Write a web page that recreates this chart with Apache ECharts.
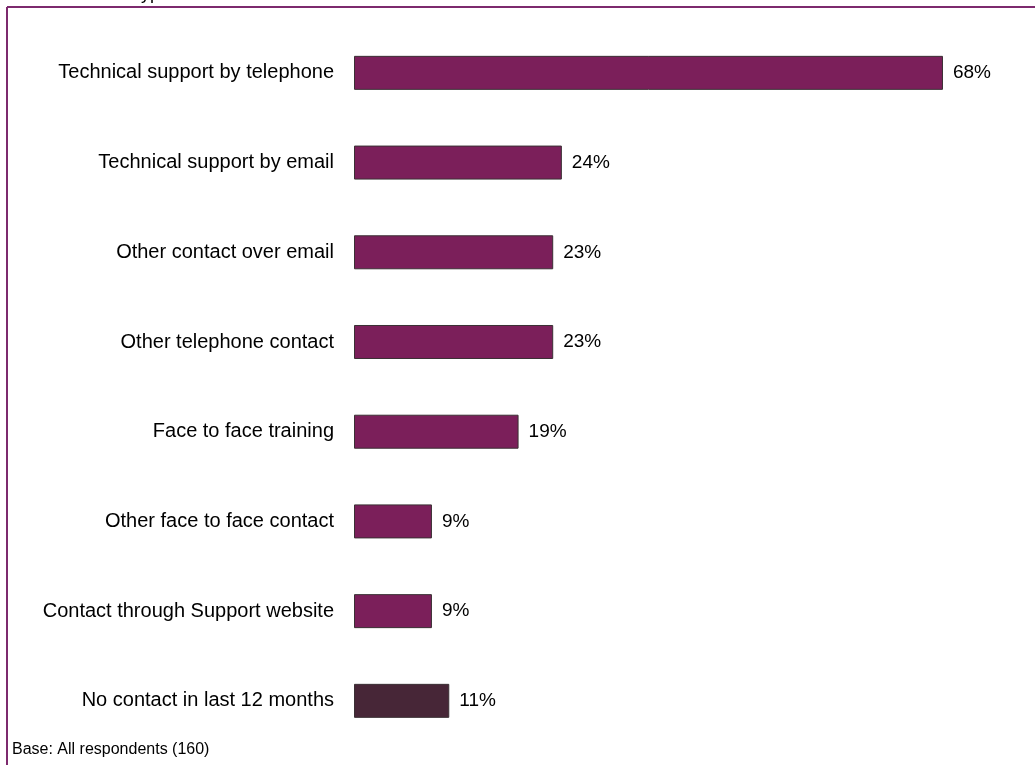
<!DOCTYPE html>
<html>
<head>
<meta charset="utf-8">
<style>
  html, body { margin: 0; padding: 0; background: #ffffff; }
  #chart { width: 1035px; height: 765px; }
</style>
<script src="https://cdn.jsdelivr.net/npm/echarts@6/dist/echarts.min.js"></script>
</head>
<body>
<div id="chart"></div>
<script>
// Contact types, top to bottom
const categories = [
  'Technical support by telephone',
  'Technical support by email',
  'Other contact over email',
  'Other telephone contact',
  'Face to face training',
  'Other face to face contact',
  'Contact through Support website',
  'No contact in last 12 months'
];
// Share of respondents (%)
const values = [68, 24, 23, 23, 19, 9, 9, 11];
const baseNote = 'Base: All respondents (160)';
const titleText = 'Type of contact';

const purple = '#7B1F5A';
const darkPlum = '#472637';
const font = 'Liberation Sans, Arial, sans-serif';

const chart = echarts.init(document.getElementById('chart'), null, { renderer: 'canvas' });

chart.setOption({
  animation: false,
  backgroundColor: '#ffffff',
  grid: { left: 354, top: 28, width: 649.6, height: 717.7, containLabel: false },
  xAxis: {
    type: 'value', min: 0, max: 75,
    show: false
  },
  yAxis: {
    type: 'category',
    inverse: true,
    data: categories,
    axisLine: { show: false },
    axisTick: { show: false },
    axisLabel: {
      margin: 20,
      color: '#000000',
      fontFamily: font,
      fontSize: 20
    }
  },
  series: [{
    type: 'bar',
    barWidth: 34,
    data: values.map((v, i) => ({
      value: v,
      itemStyle: { color: i === values.length - 1 ? darkPlum : purple }
    })),
    itemStyle: { borderColor: '#3a3034', borderWidth: 1 },
    label: {
      show: true,
      position: 'right',
      distance: 10,
      formatter: '{c}%',
      color: '#000000',
      fontFamily: font,
      fontSize: 19
    }
  }],
  graphic: [
    // Frame lines
    { type: 'line', shape: { x1: 7, y1: 7, x2: 1035, y2: 7 },
      style: { stroke: '#7D2A6E', lineWidth: 2 } },
    { type: 'line', shape: { x1: 7, y1: 7, x2: 7, y2: 765 },
      style: { stroke: '#7D2A6E', lineWidth: 2 } },
    // Heading sitting above the frame
    { type: 'text', left: 131, top: -15,
      style: { text: titleText, fill: '#000000', fontSize: 18, fontFamily: font } },
    { type: 'text', left: 12, top: 742,
      style: { text: baseNote, fill: '#000000', fontSize: 16, fontFamily: font } }
  ]
});
</script>
</body>
</html>
